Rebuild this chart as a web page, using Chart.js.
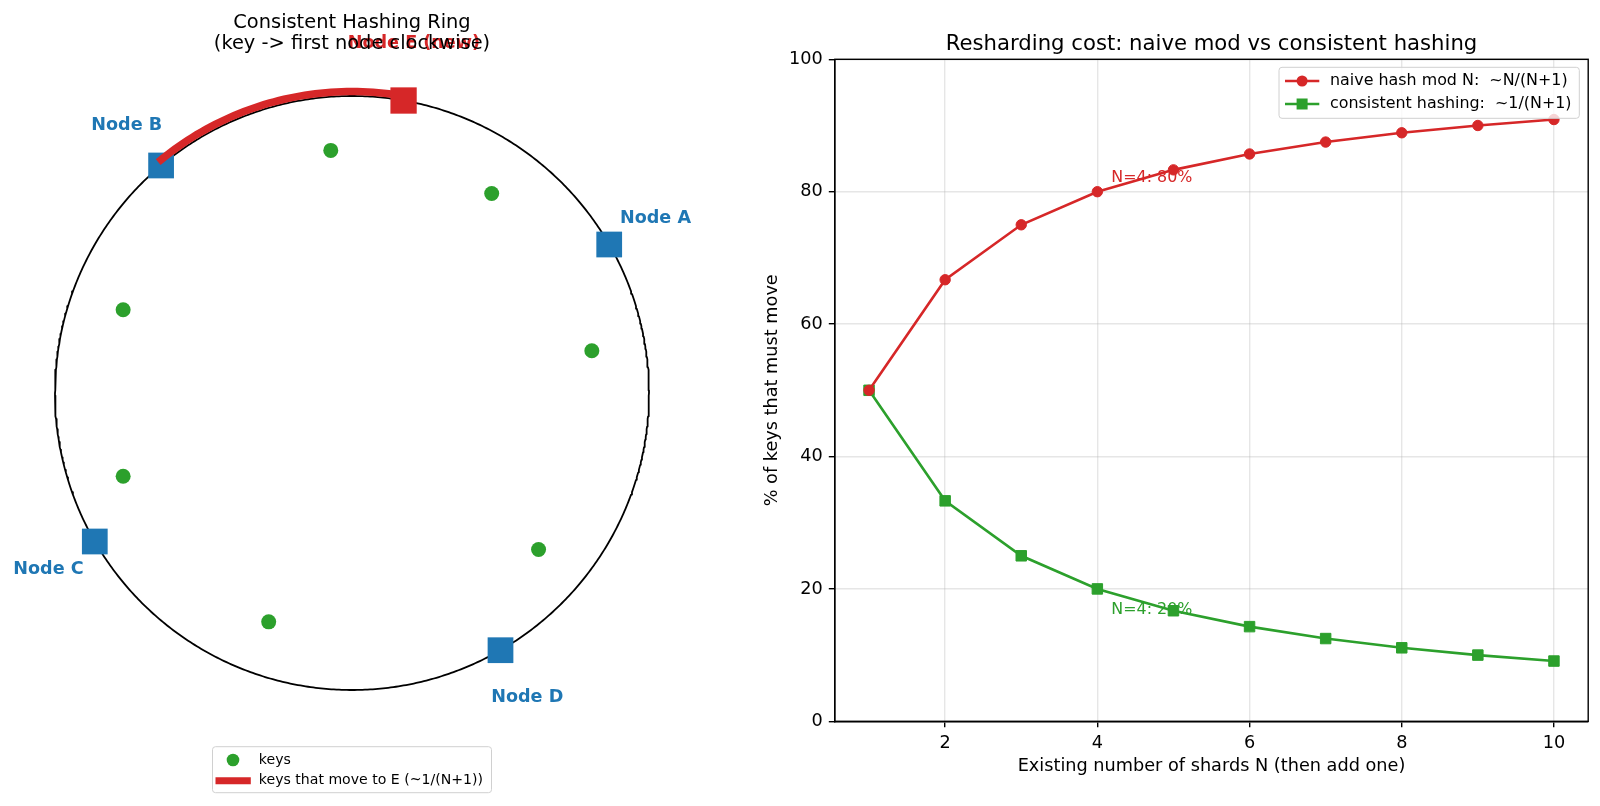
<!DOCTYPE html>
<html><head><meta charset="utf-8">
<script src="https://cdn.jsdelivr.net/npm/chart.js@4.4.1/dist/chart.umd.min.js"></script>
<style>
html,body{margin:0;padding:0;background:#fff;overflow:hidden;}
#wrap{position:relative;width:1600px;height:806px;background:#fff;}
canvas{position:absolute;top:0;}
#ring{left:0;}
#cost{left:760px;}
</style></head><body>
<div id="wrap"><canvas id="ring" width="720" height="806"></canvas><canvas id="cost" width="840" height="806"></canvas></div>
<script>
// ---------- data ----------
const NODE_NAMES = ['Node A', 'Node B', 'Node C', 'Node D'];
const NODE_ANGLES = [30, 130, 210, 300];           // degrees on the ring
const NEW_NODE_NAME = 'Node E (new)';
const NEW_NODE_ANGLE = 80;
const KEY_ANGLES = [10, 55, 95, 160, 200, 250, 320];
const MOVED_ARC = [80, 130];                        // keys between E and B move to E
const RING_TITLE = ['Consistent Hashing Ring', '(key -> first node clockwise)'];
const RING_LEGEND = ['keys', 'keys that move to E (~1/(N+1))'];

const SHARDS_N = [1, 2, 3, 4, 5, 6, 7, 8, 9, 10];
const NAIVE_PCT = [50, 66.7, 75, 80, 83.3, 85.7, 87.5, 88.9, 90, 90.9];
const CONSISTENT_PCT = [50, 33.3, 25, 20, 16.7, 14.3, 12.5, 11.1, 10, 9.1];
const X_TICKS = [2, 4, 6, 8, 10];
const Y_TICKS = [0, 20, 40, 60, 80, 100];
const SERIES_NAMES = ['naive hash mod N:  ~N/(N+1)', 'consistent hashing:  ~1/(N+1)'];
const COST_TITLE = 'Resharding cost: naive mod vs consistent hashing';
const X_TITLE = 'Existing number of shards N (then add one)';
const Y_TITLE = '% of keys that must move';
const ANNOT_INDEX = 3; // N=4

// ---------- style ----------
const BLUE = '#1f77b4', RED = '#d62728', GREEN = '#2ca02c';
const FONT = '"DejaVu Sans", sans-serif';
Chart.defaults.font.family = FONT;
Chart.defaults.color = '#000';

const RING_R = 1, KEY_R = 0.82, ARC_R = 1.015, LABEL_R = 1.18, NEW_LABEL_R = 1.2;
const deg = a => a * Math.PI / 180;
const polar = (a, r) => ({x: r * Math.cos(deg(a)), y: r * Math.sin(deg(a))});
const ringPts = []; for (let a = 0; a <= 720; a += 1) ringPts.push(polar(a / 2, RING_R));
const arcPts = []; for (let a = MOVED_ARC[0]; a <= MOVED_ARC[1]; a += 1) arcPts.push(polar(a, ARC_R));

function roundRect(ctx, x, y, w, h, r) {
  ctx.beginPath();
  ctx.moveTo(x + r, y); ctx.lineTo(x + w - r, y); ctx.arcTo(x + w, y, x + w, y + r, r);
  ctx.lineTo(x + w, y + h - r); ctx.arcTo(x + w, y + h, x + w - r, y + h, r);
  ctx.lineTo(x + r, y + h); ctx.arcTo(x, y + h, x, y + h - r, r);
  ctx.lineTo(x, y + r); ctx.arcTo(x, y, x + r, y, r);
  ctx.closePath();
}

// ---------- left: ring ----------
const ringDecor = {
  id: 'ringDecor',
  afterDraw(chart) {
    const {ctx, scales: {x, y}, chartArea: ca} = chart;
    const cx = (ca.left + ca.right) / 2;
    ctx.save();
    ctx.font = `bold 17.6px ${FONT}`; ctx.textAlign = 'center'; ctx.textBaseline = 'middle';
    NODE_NAMES.forEach((n, i) => {
      const p = polar(NODE_ANGLES[i], LABEL_R);
      ctx.fillStyle = BLUE; ctx.fillText(n, x.getPixelForValue(p.x), y.getPixelForValue(p.y) + 1);
    });
    const pe = polar(NEW_NODE_ANGLE, NEW_LABEL_R);
    ctx.fillStyle = RED; ctx.fillText(NEW_NODE_NAME, x.getPixelForValue(pe.x), y.getPixelForValue(pe.y) + 1);
    // title
    ctx.fillStyle = '#000'; ctx.font = `19.4px ${FONT}`; ctx.textBaseline = 'alphabetic';
    RING_TITLE.forEach((t, i) => ctx.fillText(t, cx, 28.3 + 20.5 * i));
    // legend
    const w = 279, h = 46, lx = cx - w / 2, ly = 746.7;
    roundRect(ctx, lx, ly, w, h, 3);
    ctx.fillStyle = 'rgba(255,255,255,0.8)'; ctx.fill();
    ctx.strokeStyle = '#d0d0d0'; ctx.lineWidth = 1; ctx.stroke();
    ctx.fillStyle = GREEN; ctx.beginPath(); ctx.arc(lx + 20.5, ly + 13.3, 6.3, 0, Math.PI * 2); ctx.fill();
    ctx.strokeStyle = RED; ctx.lineWidth = 7; ctx.lineCap = 'butt';
    ctx.beginPath(); ctx.moveTo(lx + 3, ly + 34); ctx.lineTo(lx + 38.3, ly + 34); ctx.stroke();
    ctx.fillStyle = '#000'; ctx.font = `14.1px ${FONT}`; ctx.textAlign = 'left'; ctx.textBaseline = 'middle';
    ctx.fillText(RING_LEGEND[0], lx + 46.3, ly + 13.3);
    ctx.fillText(RING_LEGEND[1], lx + 46.3, ly + 34);
    ctx.restore();
  }
};

new Chart(document.getElementById('ring'), {
  type: 'scatter',
  data: {datasets: [
    {label: NEW_NODE_NAME, data: [polar(NEW_NODE_ANGLE, RING_R)], pointStyle: 'rect', pointRadius: 18.6,
     backgroundColor: RED, borderWidth: 0, order: 0, clip: false},
    {label: RING_LEGEND[1], data: arcPts, showLine: true, borderColor: RED, borderWidth: 7.5, pointRadius: 0,
     borderCapStyle: 'butt', borderJoinStyle: 'round', order: 1, clip: false},
    {label: 'nodes', data: NODE_ANGLES.map(a => polar(a, RING_R)), pointStyle: 'rect', pointRadius: 18.2,
     backgroundColor: BLUE, borderWidth: 0, order: 2, clip: false},
    {label: RING_LEGEND[0], data: KEY_ANGLES.map(a => polar(a, KEY_R)), pointStyle: 'circle', pointRadius: 7.5,
     backgroundColor: GREEN, borderWidth: 0, order: 3, clip: false},
    {label: 'ring', data: ringPts, showLine: true, borderColor: '#000', borderWidth: 1.8, pointRadius: 0,
     borderJoinStyle: 'round', order: 4, clip: false}
  ]},
  options: {
    responsive: false, animation: false, events: [],
    layout: {autoPadding: false, padding: {left: 10.45, right: 26.45, top: 21.75, bottom: 41.75}},
    scales: {
      x: {type: 'linear', min: -1.15, max: 1.15, display: false},
      y: {type: 'linear', min: -1.25, max: 1.25, display: false}
    },
    plugins: {legend: {display: false}, tooltip: {enabled: false}, title: {display: false}}
  },
  plugins: [ringDecor]
});

// ---------- right: resharding cost ----------
const costDecor = {
  id: 'costDecor',
  beforeDatasetsDraw(chart) {
    const {ctx, scales: {x, y}} = chart;
    const n = SHARDS_N[ANNOT_INDEX];
    ctx.save();
    ctx.font = `15.9px ${FONT}`; ctx.textAlign = 'left'; ctx.textBaseline = 'alphabetic';
    ctx.fillStyle = RED;
    ctx.fillText(`N=${n}: ${Math.round(NAIVE_PCT[ANNOT_INDEX])}%`, x.getPixelForValue(n) + 14, y.getPixelForValue(NAIVE_PCT[ANNOT_INDEX]) - 9.4);
    ctx.fillStyle = GREEN;
    ctx.fillText(`N=${n}: ${Math.round(CONSISTENT_PCT[ANNOT_INDEX])}%`, x.getPixelForValue(n) + 14, y.getPixelForValue(CONSISTENT_PCT[ANNOT_INDEX]) + 25.5);
    ctx.restore();
  },
  afterDatasetsDraw(chart) {
    const {ctx, chartArea: ca} = chart;
    ctx.save();
    ctx.strokeStyle = '#000'; ctx.lineWidth = 1.4;
    ctx.strokeRect(ca.left, ca.top, ca.right - ca.left, ca.bottom - ca.top);
    ctx.restore();
  },
  afterDraw(chart) {
    const {ctx, chartArea: ca} = chart;
    ctx.save();
    // title
    ctx.fillStyle = '#000'; ctx.font = `21.2px ${FONT}`; ctx.textAlign = 'center'; ctx.textBaseline = 'alphabetic';
    ctx.fillText(COST_TITLE, (ca.left + ca.right) / 2, 50);
    // legend
    const w = 300.3, h = 51, lx = ca.right - 8.9 - w, ly = ca.top + 8;
    roundRect(ctx, lx, ly, w, h, 3);
    ctx.fillStyle = 'rgba(255,255,255,0.8)'; ctx.fill();
    ctx.strokeStyle = '#d0d0d0'; ctx.lineWidth = 1; ctx.stroke();
    const ds = chart.data.datasets;
    [ly + 13.7, ly + 36.7].forEach((ry, i) => {
      const d = ds[i];
      ctx.strokeStyle = d.borderColor; ctx.lineWidth = d.borderWidth;
      ctx.beginPath(); ctx.moveTo(lx + 6, ry); ctx.lineTo(lx + 40.3, ry); ctx.stroke();
      ctx.fillStyle = d.backgroundColor;
      const mx = lx + 23.1;
      if (d.pointStyle === 'rect') {
        ctx.fillRect(mx - 5.5, ry - 5.5, 11, 11);
      } else {
        ctx.beginPath(); ctx.arc(mx, ry, 5.5, 0, Math.PI * 2); ctx.fill();
      }
      ctx.fillStyle = '#000'; ctx.font = `15.9px ${FONT}`; ctx.textAlign = 'left'; ctx.textBaseline = 'middle';
      ctx.fillText(d.label, lx + 51, ry);
    });
    ctx.restore();
  }
};

const GRID = 'rgba(176,176,176,0.32)';
new Chart(document.getElementById('cost'), {
  type: 'line',
  data: {datasets: [
    {label: SERIES_NAMES[0], data: SHARDS_N.map((n, i) => ({x: n, y: NAIVE_PCT[i]})),
     borderColor: RED, backgroundColor: RED, borderWidth: 2.6, pointStyle: 'circle', pointRadius: 5.2,
     pointBorderWidth: 1, pointBorderColor: RED, pointBackgroundColor: RED, tension: 0, fill: false},
    {label: SERIES_NAMES[1], data: SHARDS_N.map((n, i) => ({x: n, y: CONSISTENT_PCT[i]})),
     borderColor: GREEN, backgroundColor: GREEN, borderWidth: 2.6, pointStyle: 'rect', pointRadius: 7.4,
     pointBorderWidth: 1, pointBorderColor: GREEN, pointBackgroundColor: GREEN, tension: 0, fill: false}
  ]},
  options: {
    responsive: false, animation: false, events: [],
    layout: {autoPadding: false, padding: {left: 0, right: 11.8, top: 59.3, bottom: 0}},
    scales: {
      x: {
        type: 'linear', min: 0.55, max: 10.45,
        afterBuildTicks: s => { s.ticks = X_TICKS.map(v => ({value: v})); },
        afterFit: s => { s.height = 84.7; },
        grid: {color: GRID, lineWidth: 1.4, tickColor: '#000', tickLength: 6, tickWidth: 1.4},
        border: {display: true, color: '#000', width: 1.4},
        ticks: {color: '#000', font: {size: 17.7}, padding: 5, maxRotation: 0, autoSkip: false},
        title: {display: true, text: X_TITLE, color: '#000', font: {size: 17.7}, padding: {top: 0, bottom: 28.5}}
      },
      y: {
        type: 'linear', min: 0, max: 100,
        afterBuildTicks: s => { s.ticks = Y_TICKS.map(v => ({value: v})); },
        afterFit: s => { s.width = 74.8; },
        grid: {color: GRID, lineWidth: 1.4, tickColor: '#000', tickLength: 6, tickWidth: 1.4},
        border: {display: true, color: '#000', width: 1.4},
        ticks: {color: '#000', font: {size: 17.7}, padding: 6, autoSkip: false},
        title: {display: true, text: Y_TITLE, color: '#000', font: {size: 17.7}, padding: {top: 1.5, bottom: 0}}
      }
    },
    plugins: {legend: {display: false}, tooltip: {enabled: false}, title: {display: false}}
  },
  plugins: [costDecor]
});
</script>
</body></html>
